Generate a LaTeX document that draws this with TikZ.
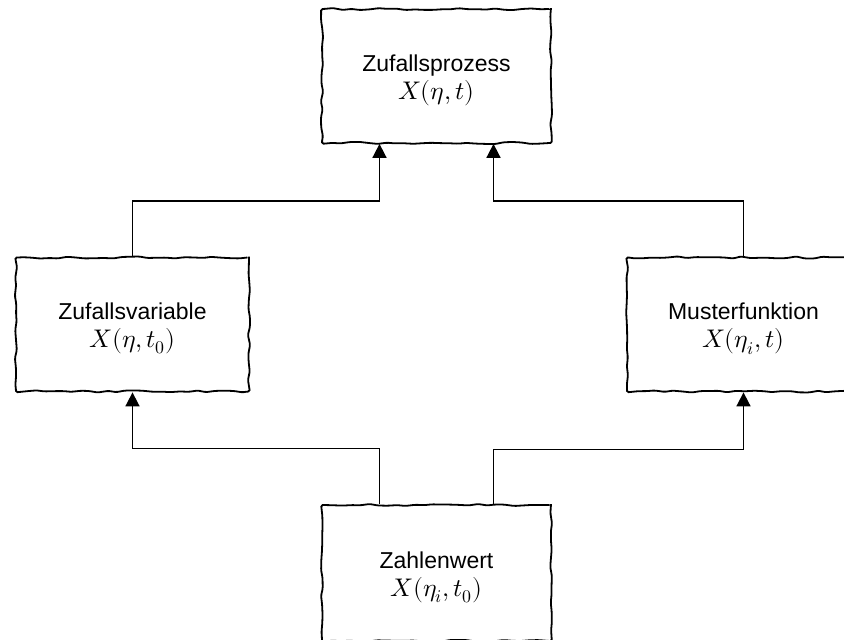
\documentclass[tikz,border=0pt]{standalone}
\usepackage{unicode-math}
\setmathfont{Latin Modern Math}
\usetikzlibrary{decorations.pathmorphing,arrows.meta}
\newfontfamily\labfont{Liberation Sans}
\newcommand{\mth}[1]{{\fontsize{25.5}{28}\selectfont$#1$}}
\newcommand{\lift}{\rule{0pt}{25pt}}
\pgfmathsetseed{7}
\tikzset{
  sketchbox/.style={draw, line width=1.8pt, fill=white,
    decorate, decoration={random steps, segment length=9pt, amplitude=1.1pt},
    rounded corners=1.5pt,
    minimum width=#1, minimum height=134pt, align=center, inner sep=0pt,
    font=\labfont\fontsize{23}{28}\selectfont},
  sketchbox/.default=229pt,
  conn/.style={line width=1.7pt},
  arr/.style={conn, -{Triangle[length=14pt,width=14pt]}}
}
\begin{document}
\begin{tikzpicture}[x=1pt,y=1pt]
\useasboundingbox (0,0) rectangle (844,640);
\clip (0,0) rectangle (844,640);
\node[sketchbox] (top) at (436.5,564) {\lift Zufallsprozess\\\mth{X(\eta,t)}};
\node[sketchbox=233pt] (left) at (132.5,315.5) {\lift Zufallsvariable\\\mth{X(\eta,t_0)}};
\node[sketchbox=233pt] (right) at (743.5,315.5) {\lift Musterfunktion\\\mth{X(\eta_i,t)}};
\node[sketchbox, minimum height=136pt] (bot) at (436.5,67) {\lift Zahlenwert\\\mth{X(\eta_i,t_0)}};
% upper connectors
\draw[arr] (left.north) |- ([xshift=-57pt,yshift=-57pt]top.south) -- ([xshift=-57pt]top.south);
\draw[arr] (right.north) |- ([xshift=57pt,yshift=-57pt]top.south) -- ([xshift=57pt]top.south);
% lower connectors
\draw[arr] ([xshift=-57pt]bot.north) |- ([yshift=-56pt]left.south) -- (left.south);
\draw[arr] ([xshift=57pt]bot.north) |- ([yshift=-57pt]right.south) -- (right.south);
\end{tikzpicture}
\end{document}
